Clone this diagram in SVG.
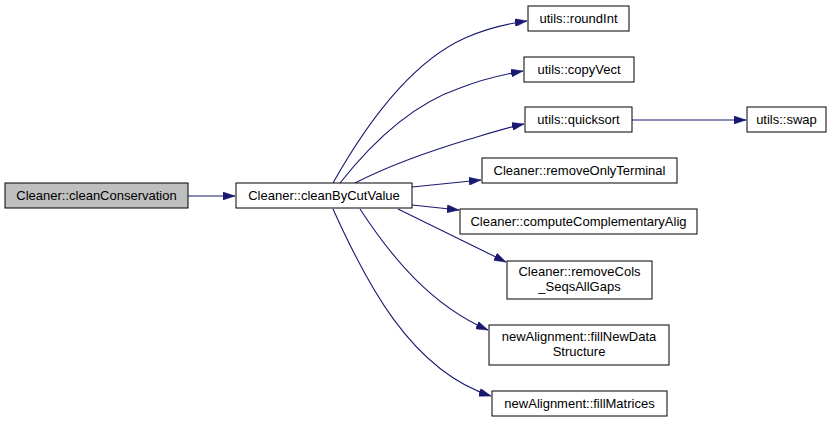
<svg xmlns="http://www.w3.org/2000/svg" width="837" height="423" viewBox="0 0 837 423">
<defs>
<style>
.n rect{fill:#fff;stroke:#000;stroke-width:1}
.n.g rect{fill:#bfbfbf}
.n text{font-family:"Liberation Sans",Arial,sans-serif;font-size:13px;fill:#000;text-anchor:middle}
.e path{fill:none;stroke:#191970;stroke-width:1.1}
</style>
<marker id="ah" viewBox="0 0 12 8" refX="12" refY="4" markerWidth="12" markerHeight="8" markerUnits="userSpaceOnUse" orient="auto">
<path d="M0,0 L12,4 L0,8 Z" fill="#191970" stroke="#191970" stroke-width="0.5"/>
</marker>
</defs>
<rect width="837" height="423" fill="#fff"/>
<g id="edges" class="e">
<path d="M188,196 L235,196" marker-end="url(#ah)"/>
<path d="M333,183 C360,135 405,65 465,38 C485,29 505,24 527,21" marker-end="url(#ah)"/>
<path d="M340,183 C370,145 410,105 460,88 C480,80 500,75 523,71" marker-end="url(#ah)"/>
<path d="M355,183 C390,165 440,148 470,139 C490,133 505,128 524,124" marker-end="url(#ah)"/>
<path d="M412,187 L481,180" marker-end="url(#ah)"/>
<path d="M412,205 L459,210" marker-end="url(#ah)"/>
<path d="M398,209 C430,225 465,242 506,262" marker-end="url(#ah)"/>
<path d="M360,209 C390,255 430,305 488,330" marker-end="url(#ah)"/>
<path d="M333,209 C365,280 410,370 491,396" marker-end="url(#ah)"/>
<path d="M632,120 L746,120" marker-end="url(#ah)"/>
</g>
<g id="cleanConservation" class="n g"><rect x="5" y="183" width="183" height="25"/><text x="96.5" y="200">Cleaner::cleanConservation</text></g>
<g id="cleanByCutValue" class="n"><rect x="236" y="183" width="176" height="25"/><text x="324" y="200">Cleaner::cleanByCutValue</text></g>
<g id="roundInt" class="n"><rect x="528" y="6" width="101" height="25"/><text x="578.5" y="23">utils::roundInt</text></g>
<g id="copyVect" class="n"><rect x="524" y="57" width="110" height="25"/><text x="579" y="74">utils::copyVect</text></g>
<g id="quicksort" class="n"><rect x="525" y="107" width="107" height="25"/><text x="578.5" y="124">utils::quicksort</text></g>
<g id="swap" class="n"><rect x="747" y="107" width="79" height="25"/><text x="786.5" y="124">utils::swap</text></g>
<g id="removeOnlyTerminal" class="n"><rect x="482" y="158" width="195" height="25"/><text x="579.5" y="175">Cleaner::removeOnlyTerminal</text></g>
<g id="computeComplementaryAlig" class="n"><rect x="460" y="209" width="237" height="25"/><text x="578.5" y="226">Cleaner::computeComplementaryAlig</text></g>
<g id="removeCols_SeqsAllGaps" class="n"><rect x="507" y="261" width="145" height="38"/><text x="579.5" y="276">Cleaner::removeCols</text><text x="579.5" y="291">_SeqsAllGaps</text></g>
<g id="fillNewDataStructure" class="n"><rect x="489" y="325" width="180" height="40"/><text x="579" y="341">newAlignment::fillNewData</text><text x="579" y="356">Structure</text></g>
<g id="fillMatrices" class="n"><rect x="492" y="391" width="175" height="25"/><text x="579.5" y="408">newAlignment::fillMatrices</text></g>
</svg>
